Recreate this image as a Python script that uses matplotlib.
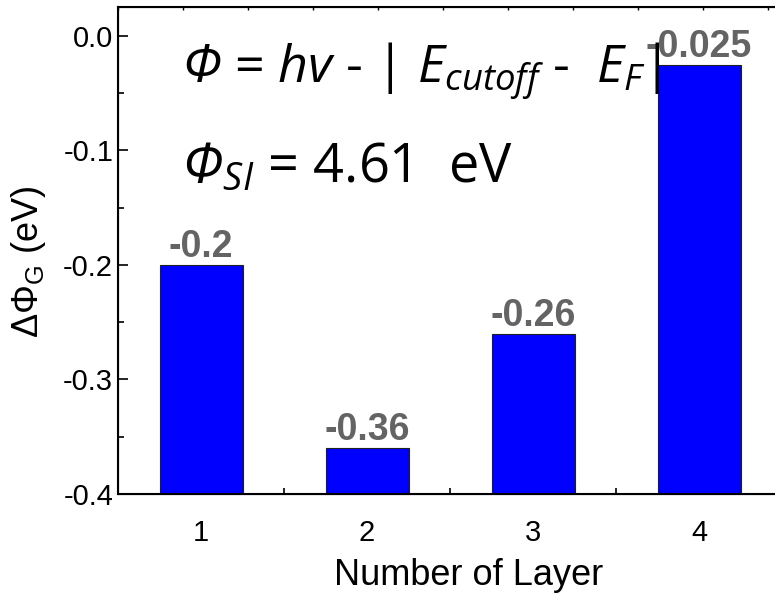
import matplotlib
matplotlib.use("Agg")
import matplotlib.pyplot as plt
from matplotlib.ticker import MultipleLocator, FixedLocator

layers = [1, 2, 3, 4]
delta_phi = [-0.2, -0.36, -0.26, -0.025]
value_labels = ["-0.2", "-0.36", "-0.26", "-0.025"]
y_ticks = [0.0, -0.1, -0.2, -0.3, -0.4]
y_ticklabels = ["0.0", "-0.1", "-0.2", "-0.3", "-0.4"]
base = -0.4

plt.rcParams['mathtext.fontset'] = 'custom'
plt.rcParams['mathtext.rm'] = 'Open Sans:italic'
plt.rcParams['mathtext.it'] = 'Open Sans:italic'
plt.rcParams['font.family'] = ['Liberation Sans', 'DejaVu Sans']

W, H = 775, 593
fig = plt.figure(figsize=(W / 100, H / 100), dpi=100)
left, right, top, bottom = 118, 782, 7, 494
ax = fig.add_axes([left / W, (H - bottom) / H, (right - left) / W, (bottom - top) / H])

heights = [v - base for v in delta_phi]
ax.bar(layers, heights, bottom=base, width=0.5, color='#0000FF', edgecolor='#202020', linewidth=0.8, zorder=2)

for x, v, lab in zip(layers, delta_phi, value_labels):
    ax.annotate(lab, (x, v), xytext=(0, 0), textcoords='offset points', ha='center', va='bottom',
                fontsize=27, fontweight='bold', color='#646464', zorder=4)

ax.set_xlim(0.5, 4.5)
ax.set_ylim(-0.4, 0.0253)
ax.set_yticks(y_ticks)
ax.set_yticklabels(y_ticklabels)
ax.yaxis.set_minor_locator(MultipleLocator(0.05))
ax.set_xticks(layers)
ax.set_xticklabels([str(l) for l in layers])
ax.xaxis.set_minor_locator(FixedLocator([1.5, 2.5, 3.5]))

ax.tick_params(axis='y', which='major', direction='in', length=7.5, width=1.2, labelsize=21, pad=3.5)
ax.tick_params(axis='y', which='minor', direction='in', length=4.5, width=1.2)
ax.tick_params(axis='x', which='major', direction='in', length=0, labelsize=21, pad=18)
ax.tick_params(axis='x', which='minor', direction='in', length=4, width=1.2)
ax.tick_params(top=False, right=False, which='both')
for s in ['left', 'bottom', 'top', 'right']:
    ax.spines[s].set_linewidth(1.5)

# top axis minor ticks
axt = ax.twiny()
axt.set_xlim(0, (right - left) / 65)
axt.xaxis.set_major_locator(MultipleLocator(1))
axt.tick_params(axis='x', direction='in', length=2.5, width=1, labeltop=False)

fig.text(469 / W, 1 - 585 / H, 'Number of Layer', ha='center', va='baseline', fontsize=26)
fig.text(28 / W, 1 - 262 / H, r'$\mathregular{\Delta\Phi_G}$ (eV)', rotation=90, ha='center', va='center',
         fontsize=26, math_fontfamily='dejavusans')

ax.text(182 / W, 1 - 83 / H, r'$\Phi$ = $hv$ - | $E_{cutoff}$ -  $E_F$|', transform=fig.transFigure,
        ha='left', va='baseline', fontsize=37.5, family='Open Sans', zorder=5)
ax.text(182 / W, 1 - 182 / H, r'$\Phi_{SI}$ = 4.61  eV', transform=fig.transFigure,
        ha='left', va='baseline', fontsize=39, family='Open Sans', zorder=3)

fig.savefig('out.png', dpi=100)
